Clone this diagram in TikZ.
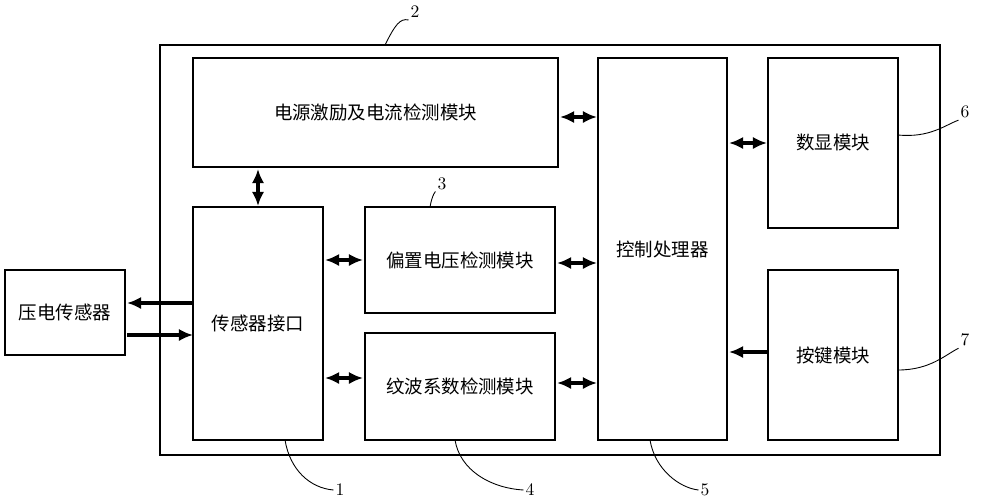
\documentclass[tikz,border=0pt]{standalone}
\usepackage{fontspec}
\newfontfamily\cjk{Noto Sans CJK SC}
\usetikzlibrary{arrows.meta}
\begin{document}
\begin{tikzpicture}[x=0.02cm,y=-0.02cm,
  box/.style={draw,line width=0.6pt,inner sep=0pt,font=\cjk\fontsize{10.5}{12}\selectfont},
  arr/.style={line width=2.2pt,-{Latex[length=8pt,width=7pt]}},
  darr/.style={line width=2.2pt,{Latex[length=8pt,width=7pt]}-{Latex[length=8pt,width=7pt]}},
  lead/.style={line width=0.5pt},
  num/.style={font=\fontsize{10}{12}\selectfont,inner sep=1pt}]
\useasboundingbox (0,0) rectangle (1000,501);
\node[draw,line width=0.6pt,minimum width=780*0.02cm,minimum height=410*0.02cm] (outer) at (550,250) {};
\node[box,minimum width=365*0.02cm,minimum height=109*0.02cm] (pw) at (375.5,112.5) {电源激励及电流检测模块};
\node[box,minimum width=130*0.02cm,minimum height=233*0.02cm] (si) at (258,323.5) {传感器接口};
\node[box,minimum width=190*0.02cm,minimum height=106*0.02cm] (bv) at (460,260) {偏置电压检测模块};
\node[box,minimum width=190*0.02cm,minimum height=107*0.02cm] (rp) at (460,386.5) {纹波系数检测模块};
\node[box,minimum width=129*0.02cm,minimum height=382*0.02cm] (cp) at (662.5,249) {控制处理器};
\node[box,minimum width=130*0.02cm,minimum height=170*0.02cm] (dp) at (833,143) {数显模块};
\node[box,minimum width=130*0.02cm,minimum height=170*0.02cm] (ky) at (833,355) {按键模块};
\node[box,minimum width=120*0.02cm,minimum height=85*0.02cm] (pz) at (65,312.5) {压电传感器};
\coordinate (a1) at (560,117); \coordinate (a2) at (597,117);
\draw[darr] (a1) -- (a2);
\coordinate (b1) at (258,169); \coordinate (b2) at (258,206);
\draw[darr] (b1) -- (b2);
\coordinate (c1) at (325,260); \coordinate (c2) at (363,260);
\draw[darr] (c1) -- (c2);
\coordinate (d1) at (557,263); \coordinate (d2) at (597,263);
\draw[darr] (d1) -- (d2);
\coordinate (e1) at (325,378); \coordinate (e2) at (363,378);
\draw[darr] (e1) -- (e2);
\coordinate (f1) at (557,383); \coordinate (f2) at (597,383);
\draw[darr] (f1) -- (f2);
\coordinate (g1) at (729,143); \coordinate (g2) at (767,143);
\draw[darr] (g1) -- (g2);
\coordinate (h1) at (767,352); \coordinate (h2) at (729,352);
\draw[arr] (h1) -- (h2);
\coordinate (i1) at (193,303); \coordinate (i2) at (127,303);
\draw[arr] (i1) -- (i2);
\coordinate (j1) at (127,335); \coordinate (j2) at (193,335);
\draw[arr] (j1) -- (j2);
\node[num] (n2) at (415,12) {2};
\draw[lead] (385,45) .. controls (395,25) and (400,18) .. (n2.south west);
\node[num] (n3) at (442,184) {3};
\draw[lead] (430,207) .. controls (432,195) and (436,190) .. (n3.south west);
\node[num] (n6) at (965,112) {6};
\draw[lead] (898,135) .. controls (930,138) and (945,125) .. (n6.south west);
\node[num] (n7) at (965,340) {7};
\draw[lead] (898,370) .. controls (930,370) and (945,355) .. (n7.south west);
\node[num] (n1) at (340,490) {1};
\draw[lead] (285,440) .. controls (290,470) and (310,488) .. (n1.west);
\node[num] (n4) at (530,490) {4};
\draw[lead] (455,440) .. controls (460,470) and (490,488) .. (n4.west);
\node[num] (n5) at (705,490) {5};
\draw[lead] (650,440) .. controls (655,470) and (680,488) .. (n5.west);
\end{tikzpicture}
\end{document}
